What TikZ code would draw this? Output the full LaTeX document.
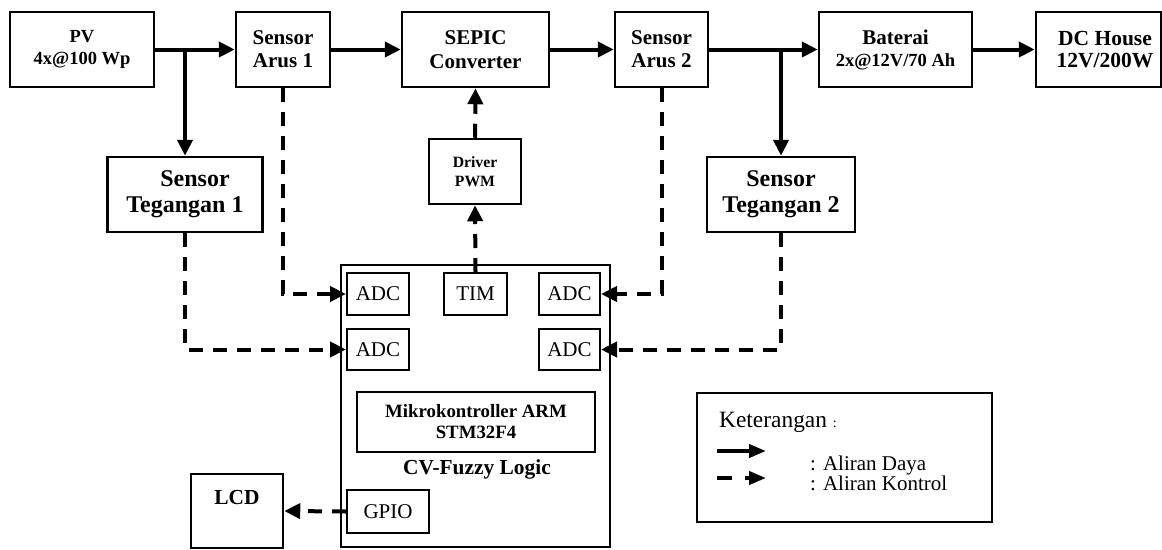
\documentclass[tikz,border=0pt]{standalone}
\usepackage{fontspec}
\setmainfont{Liberation Serif}
\usetikzlibrary{arrows.meta}
\newcommand\myfs[2]{\fontsize{#1}{#2}\selectfont}
\begin{document}
\begin{tikzpicture}[x=1pt,y=-1pt,
  blk/.style={draw, line width=2.5pt, inner sep=0pt, align=center},
  sub/.style={draw, line width=2pt, inner sep=0pt, align=center, font=\myfs{21}{24}},
  pw/.style={line width=4pt, -{Triangle[length=16pt,width=15pt]}},
  ctl/.style={line width=4pt, dash pattern=on 14pt off 10pt, -{Triangle[length=16pt,width=15pt]}}]
\useasboundingbox (0,0) rectangle (1162,549);
% top row
\node[blk, minimum width=144pt, minimum height=75pt, font=\bfseries\myfs{18.5}{21.5}] (pv) at (82,49.5) {PV\\4x@100 Wp};
\node[blk, minimum width=94pt, minimum height=75pt, font=\bfseries\myfs{21}{23}] (sa1) at (283,49.5) {Sensor\\Arus 1};
\node[blk, minimum width=147pt, minimum height=75pt, font=\bfseries\myfs{21}{24}] (sepic) at (475.5,49.5) {SEPIC\\Converter};
\node[blk, minimum width=93pt, minimum height=75pt, font=\bfseries\myfs{21}{23}] (sa2) at (661.5,49.5) {Sensor\\Arus 2};
\node[blk, minimum width=153pt, minimum height=75pt, font=\bfseries\myfs{21}{22}] (bat) at (895.5,49.5) {Baterai\\{\myfs{18.5}{22}2x@12V/70 Ah}};
\node[blk, minimum width=125pt, minimum height=75pt] (dc) at (1098.5,49.5) {};
\node[inner sep=0pt, align=center, font=\bfseries\myfs{21.5}{22}] (dct) at (1105,49.5) {DC House\\12V/200W};
% sensors
\node[blk, minimum width=155pt, minimum height=75pt, font=\bfseries\myfs{24}{26}] (st1) at (185,194.5) {\hspace*{20pt}Sensor\\Tegangan 1};
\node[blk, minimum width=148pt, minimum height=75pt, font=\bfseries\myfs{24}{26}] (st2) at (781,194.5) {Sensor\\Tegangan 2};
\node[blk, minimum width=92pt, minimum height=65pt, font=\bfseries\myfs{15.7}{19}] (drv) at (475,171.5) {Driver\\PWM};
% microcontroller
\node[draw, line width=2pt, minimum width=269pt, minimum height=282pt] (mcu) at (475.5,406) {};
\node[sub, minimum width=62pt, minimum height=42pt] (adc1) at (378,294) {ADC};
\node[sub, minimum width=63pt, minimum height=42pt] (tim) at (475.5,294) {TIM};
\node[sub, minimum width=61pt, minimum height=42pt] (adc3) at (569.5,294) {ADC};
\node[sub, minimum width=62pt, minimum height=41pt] (adc2) at (378,349.5) {ADC};
\node[sub, minimum width=61pt, minimum height=41pt] (adc4) at (569.5,349.5) {ADC};
\node[sub, minimum width=238pt, minimum height=60pt, font=\bfseries\myfs{18.8}{21}] (arm) at (476,422) {Mikrokontroller ARM\\STM32F4};
\node[inner sep=0pt, anchor=base, font=\bfseries\myfs{21.4}{24}] (cv) at (477,474) {CV-Fuzzy Logic};
\node[sub, minimum width=82pt, minimum height=43pt] (gpio) at (388,511.5) {GPIO};
\node[blk, minimum width=92pt, minimum height=74pt] (lcd) at (237,511) {};
\node[inner sep=0pt, font=\bfseries\myfs{21.4}{22}] (lcdt) at (237,498) {LCD};
% power flow
\coordinate (j1) at (185,49.5);
\coordinate (j2) at (st2.north |- sa2.east);
\draw[pw] (pv.east) -- (sa1.west);
\draw[pw] (sa1.east) -- (sepic.west);
\draw[pw] (sepic.east) -- (sa2.west);
\draw[pw] (sa2.east) -- (bat.west);
\draw[pw] (bat.east) -- (dc.west);
\draw[pw] (j1) -- (st1.north);
\draw[pw] (j2) -- (st2.north);
% control flow
\draw[ctl] (sa1.south) |- (adc1.west);
\draw[ctl] (st1.south) |- (adc2.west);
\draw[ctl] (sa2.south) |- (adc3.east);
\draw[ctl] (st2.south) |- (adc4.east);
\draw[ctl] (tim.north) -- (drv.south);
\draw[ctl] (drv.north) -- (sepic.south);
\draw[ctl] (gpio.west) -- (lcd.east);
% legend
\node[draw, line width=2.5pt, minimum width=295pt, minimum height=129pt] (leg) at (844.5,457.5) {};
\node[inner sep=0pt, anchor=base west, font=\myfs{23.4}{24}] (ket) at (719,427) {Keterangan {\myfs{14}{14}:}};
\coordinate (la1) at (717,451);
\coordinate (la2) at (766,451);
\coordinate (lb1) at (717,478);
\coordinate (lb2) at (766,478);
\draw[line width=4pt, -{Triangle[length=17pt,width=13pt]}] (la1) -- (la2);
\draw[line width=4pt, dash pattern=on 15pt off 13pt, -{Triangle[length=17pt,width=13pt]}] (lb1) -- (lb2);
\node[inner sep=0pt, anchor=base west, font=\myfs{21}{22}] (ld) at (810,470) {: Aliran Daya};
\node[inner sep=0pt, anchor=base west, font=\myfs{21}{22}] (lk) at (810,490) {: Aliran Kontrol};
\end{tikzpicture}
\end{document}
